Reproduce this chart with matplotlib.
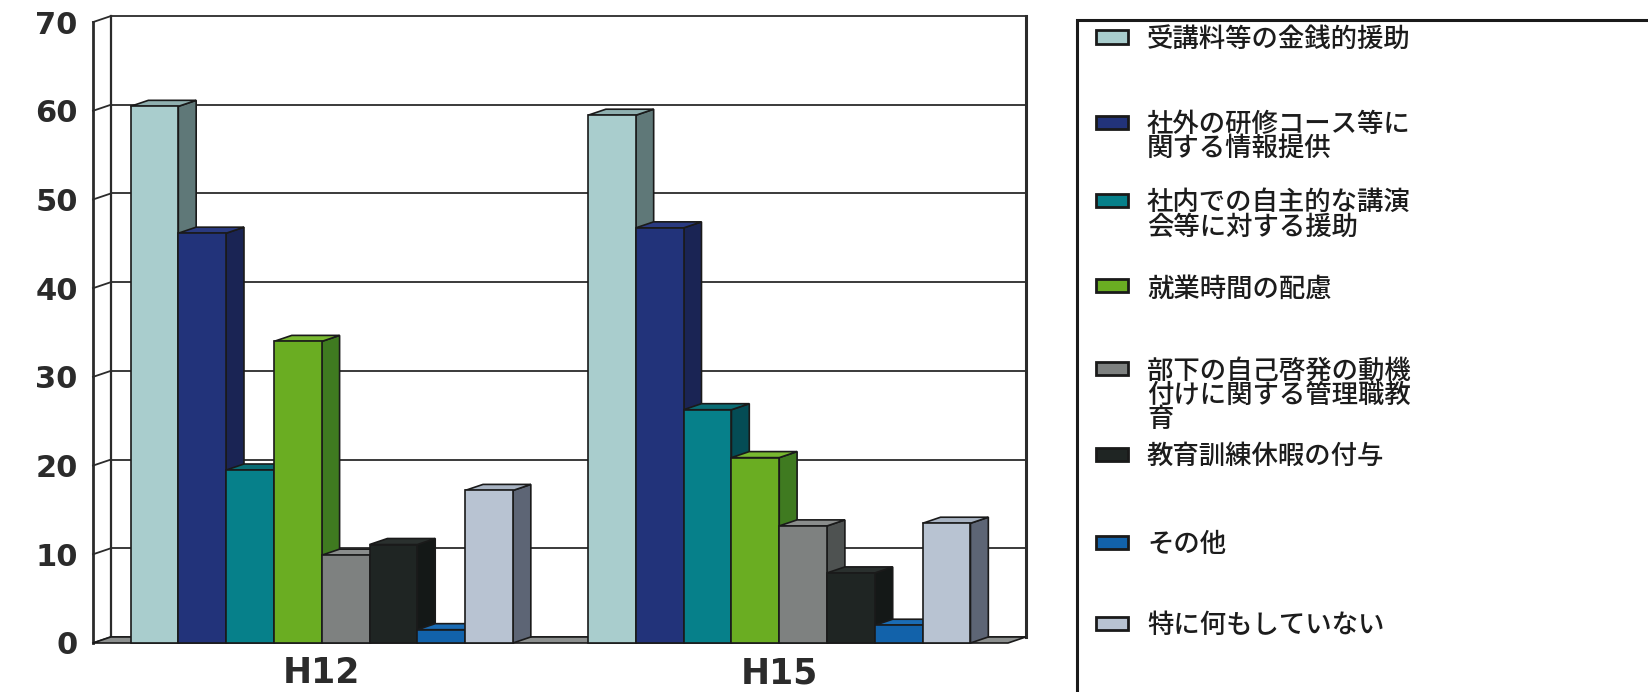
import matplotlib
matplotlib.use("Agg")
import matplotlib.pyplot as plt
from matplotlib.patches import Polygon, Rectangle
from matplotlib.transforms import blended_transform_factory

# ---- data -------------------------------------------------------------
years = ["H12", "H15"]
series_labels = [
    "受講料等の金銭的援助",
    "社外の研修コース等に\n関する情報提供",
    "社内での自主的な講演\n会等に対する援助",
    "就業時間の配慮",
    "部下の自己啓発の動機\n付けに関する管理職教\n育",
    "教育訓練休暇の付与",
    "その他",
    "特に何もしていない",
]
values_h12 = [60.5, 46.2, 19.5, 34.0, 9.9, 11.1, 1.5, 17.2]
values_h15 = [59.5, 46.8, 26.3, 20.9, 13.2, 7.9, 2.0, 13.5]
y_ticks = [0, 10, 20, 30, 40, 50, 60, 70]

# ---- styling ----------------------------------------------------------
front_colors = ["#a9cdcd", "#22337a", "#06808a", "#6aad22",
                "#7e8180", "#1f2523", "#1262aa", "#b8c3d2"]
side_colors = ["#5f7878", "#1a2454", "#044c55", "#3f7a20",
               "#4e5251", "#141817", "#0b3f70", "#5d6575"]
top_colors = ["#8fb0b0", "#2a3a80", "#0a6d75", "#78b830",
              "#8a8d8c", "#2a302e", "#1a6cb5", "#a8b3c2"]
edge = "#1a1a1a"
ink = "#2b2b2b"

W, H = 1648, 692
fig = plt.figure(figsize=(W / 100, H / 100), dpi=100)
fig.patch.set_facecolor("white")

ax = fig.add_axes([93 / W, 49 / H, 915 / W, 620.9 / H])
ax.set_xlim(-0.5, 1.5)
ax.set_ylim(0, 70)
for s in ax.spines.values():
    s.set_visible(False)
ax.set_facecolor("none")

# depth of the 3-D projection, in data units
dx, dy = 0.039, 0.68

# back wall gridlines
for v in y_ticks:
    ax.plot([-0.5 + dx, 1.5 + dx], [v + dy, v + dy], color=ink, lw=1.3,
            clip_on=False, zorder=1, solid_capstyle="butt")
    # slanted ticks on the side wall
    ax.plot([-0.5, -0.5 + dx], [v, v + dy], color=ink, lw=1.3,
            clip_on=False, zorder=1)

# side wall edges and right wall edge
ax.plot([-0.5, -0.5], [0, 70], color=ink, lw=2.0, clip_on=False, zorder=1)
ax.plot([-0.5 + dx, -0.5 + dx], [dy, 70 + dy], color=ink, lw=1.6,
        clip_on=False, zorder=1)
ax.plot([1.5 + dx, 1.5 + dx], [dy, 70 + dy], color=ink, lw=2.2,
        clip_on=False, zorder=1)

# floor slab
floor = Polygon([(-0.5, 0), (1.5, 0), (1.5 + dx, dy), (-0.5 + dx, dy)],
                closed=True, facecolor="#8c8f8e", edgecolor=edge, lw=1.2,
                clip_on=False, zorder=2)
ax.add_patch(floor)

# 3-D bars
n = len(series_labels)
bw = 0.1045
z = 3
for g, vals in enumerate([values_h12, values_h15]):
    start = g - n * bw / 2
    for i, h in enumerate(vals):
        x0 = start + i * bw
        side = Polygon([(x0 + bw, 0), (x0 + bw + dx, dy),
                        (x0 + bw + dx, h + dy), (x0 + bw, h)],
                       closed=True, facecolor=side_colors[i], edgecolor=edge,
                       lw=1.2, clip_on=False, zorder=z)
        top = Polygon([(x0, h), (x0 + bw, h), (x0 + bw + dx, h + dy),
                       (x0 + dx, h + dy)],
                      closed=True, facecolor=top_colors[i], edgecolor=edge,
                      lw=1.2, clip_on=False, zorder=z)
        ax.add_patch(side)
        ax.add_patch(top)
        ax.bar(x0, h, width=bw, align="edge", color=front_colors[i],
               edgecolor=edge, linewidth=1.2, zorder=z + 0.5, clip_on=False)
        z += 1

# value axis labels
ax.set_yticks(y_ticks)
ax.set_yticklabels([str(v) for v in y_ticks], fontsize=22,
                   fontweight="bold", color=ink)
ax.tick_params(axis="y", length=0, pad=11)

# category labels under each group
ax.set_xticks([])
xlab_tr = blended_transform_factory(ax.transData, fig.transFigure)
for g, name in enumerate(years):
    ax.text(g, 1 - 683 / H, name, transform=xlab_tr, ha="center",
            va="baseline", fontsize=25, fontweight="bold", color=ink)

# ---- legend box -------------------------------------------------------
box_left = 1077 / W
box_top = 1 - 20 / H
fig.add_artist(Rectangle((box_left, -0.05), 0.5, box_top + 0.05,
                         transform=fig.transFigure, facecolor="none",
                         edgecolor="#1a1a1a", lw=2.2))

entry_y = [37, 122, 200, 286, 368, 454, 542, 623]
mk_x, mk_w, mk_h = 1096, 32, 13
txt_x = 1147
fs_leg = 19
for i, label in enumerate(series_labels):
    yc = entry_y[i]
    fig.add_artist(Rectangle((mk_x / W, 1 - (yc + mk_h / 2) / H),
                             mk_w / W, mk_h / H, transform=fig.transFigure,
                             facecolor=front_colors[i], edgecolor="#1a1a1a",
                             lw=2.0))
    fig.text(txt_x / W, 1 - (yc - 10.8) / H, label, ha="left", va="top",
             fontsize=fs_leg, color="#1c1c1c", linespacing=0.88,
             fontweight="medium",
             family=["Noto Sans CJK JP", "DejaVu Sans"])

fig.savefig("out.png", dpi=100, facecolor="white")
